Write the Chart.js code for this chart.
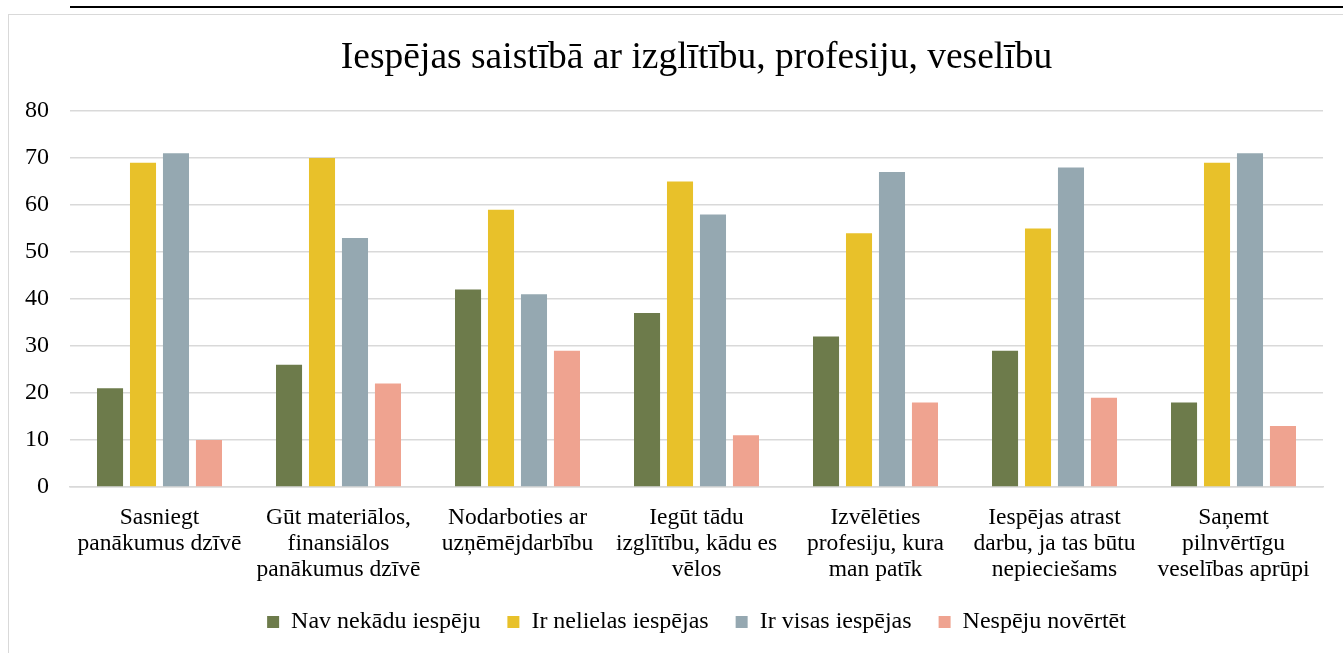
<!DOCTYPE html>
<html>
<head>
<meta charset="utf-8">
<script src="https://cdn.jsdelivr.net/npm/chart.js@4.4.1/dist/chart.umd.min.js"></script>
<style>
  html, body { margin: 0; padding: 0; background: #fff; overflow: hidden; }
  #wrap { position: relative; width: 1343px; height: 653px; }
  #topline { position: absolute; left: 70px; top: 6px; width: 1273px; height: 2px; background: #000; }
  #frame { position: absolute; left: 8px; top: 14px; width: 1400px; height: 700px; border: 1px solid #d9d9d9; box-sizing: border-box; }
  canvas { position: absolute; left: 0; top: 0; }
</style>
</head>
<body>
<div id="wrap">
  <div id="topline"></div>
  <div id="frame"></div>
  <canvas id="c" width="1343" height="653"></canvas>
</div>
<script>
const titleText = 'Iespējas saistībā ar izglītību, profesiju, veselību';
const categories = [
  ['Sasniegt', 'panākumus dzīvē'],
  ['Gūt materiālos,', 'finansiālos', 'panākumus dzīvē'],
  ['Nodarboties ar', 'uzņēmējdarbību'],
  ['Iegūt tādu', 'izglītību, kādu es', 'vēlos'],
  ['Izvēlēties', 'profesiju, kura', 'man patīk'],
  ['Iespējas atrast', 'darbu, ja tas būtu', 'nepieciešams'],
  ['Saņemt', 'pilnvērtīgu', 'veselības aprūpi']
];
const seriesNames = ['Nav nekādu iespēju', 'Ir nelielas iespējas', 'Ir visas iespējas', 'Nespēju novērtēt'];
const navIespeju = [21, 26, 42, 37, 32, 29, 18];
const nelielas = [69, 70, 59, 65, 54, 55, 69];
const visas = [71, 53, 41, 58, 67, 68, 71];
const nespeju = [10, 22, 29, 11, 18, 19, 13];
const yTicks = [0, 10, 20, 30, 40, 50, 60, 70, 80];
const colors = ['#6d7b4b', '#e8c12a', '#95a8b1', '#efa390'];

const FONT = "'Liberation Serif', 'Times New Roman', serif";
const seriesData = [navIespeju, nelielas, visas, nespeju];

const legendHeightFix = {
  id: 'legendHeightFix',
  afterInit(chart) {
    const lg = chart.legend;
    if (!lg) return;
    const orig = lg.fit;
    lg.fit = function () { orig.call(this); this.height = 70; };
  }
};

function build() {
  new Chart(document.getElementById('c'), {
    type: 'bar',
    data: {
      labels: categories,
      datasets: seriesData.map((d, i) => ({
        label: seriesNames[i],
        data: d,
        backgroundColor: colors[i],
        borderWidth: 0,
        categoryPercentage: 0.737,
        barPercentage: 0.79
      }))
    },
    plugins: [legendHeightFix],
    options: {
      responsive: false,
      animation: false,
      devicePixelRatio: 1,
      layout: { padding: { left: 0, right: 20, top: 0, bottom: 0 } },
      plugins: {
        title: {
          display: true,
          text: titleText,
          fullSize: false,
          color: '#000',
          font: { family: FONT, size: 37.5, weight: 'normal', lineHeight: 1.2 },
          padding: { top: 36, bottom: 30 }
        },
        legend: {
          position: 'bottom',
          fullSize: false,
          labels: {
            color: '#000',
            font: { family: FONT, size: 24 },
            boxWidth: 12,
            boxHeight: 12,
            padding: 27
          }
        },
        tooltip: { enabled: false }
      },
      scales: {
        x: {
          afterFit: (s) => { s.height = 96; },
          grid: { display: false, drawTicks: false },
          border: { display: true, color: '#d9d9d9', width: 1.5 },
          ticks: {
            color: '#000',
            font: { family: FONT, size: 23.5, lineHeight: 26 / 23.5 },
            padding: 18,
            maxRotation: 0,
            autoSkip: false
          }
        },
        y: {
          min: 0,
          max: 80,
          afterFit: (s) => { s.width = 70; },
          afterBuildTicks: (s) => { s.ticks = yTicks.map(v => ({ value: v })); },
          grid: { color: '#d9d9d9', lineWidth: 1.5, drawTicks: false },
          border: { display: false },
          ticks: {
            color: '#000',
            font: { family: FONT, size: 24 },
            padding: 21
          }
        }
      }
    }
  });
}

Promise.all([
  document.fonts.load("24px 'Liberation Serif'"),
  document.fonts.load("37px 'Liberation Serif'")
]).then(build, build);
</script>
</body>
</html>
